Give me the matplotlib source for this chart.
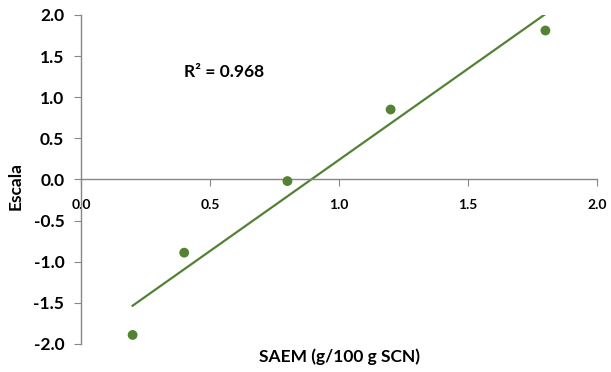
import numpy as np
import matplotlib.pyplot as plt

saem = [0.2, 0.4, 0.8, 1.2, 1.8]
escala = [-1.89, -0.89, -0.02, 0.85, 1.81]
x_ticks = [0.0, 0.5, 1.0, 1.5, 2.0]
y_ticks = [-2.0, -1.5, -1.0, -0.5, 0.0, 0.5, 1.0, 1.5, 2.0]

green = "#548235"
gray = "#868686"

plt.rcParams["font.family"] = ["Lato", "DejaVu Sans"]
plt.rcParams["font.weight"] = "bold"
fs = 12.5

fig = plt.figure(figsize=(6.11, 3.72), dpi=100)
ax = fig.add_axes([0.1326, 0.0753, 0.8445, 0.8847])

# linear trendline from the points
slope, intercept = np.polyfit(saem, escala, 1)
x_fit = np.array([min(saem), max(saem)])
ax.plot(x_fit, slope * x_fit + intercept, color=green, lw=1.6, zorder=2)
ax.scatter(saem, escala, s=50, color=green, zorder=3, edgecolors="none")

ax.set_xlim(0, 2)
ax.set_ylim(-2, 2)
ax.set_xticks(x_ticks)
ax.set_yticks(y_ticks)
ax.set_xticklabels([f"{v:.1f}" for v in x_ticks], fontsize=fs, fontweight="bold")
ax.set_yticklabels([f"{v:.1f}" for v in y_ticks], fontsize=fs, fontweight="bold")

ax.spines["bottom"].set_position(("data", 0))
ax.spines["top"].set_visible(False)
ax.spines["right"].set_visible(False)
for s in ("left", "bottom"):
    ax.spines[s].set_color(gray)
    ax.spines[s].set_linewidth(1.0)
ax.tick_params(axis="x", direction="out", length=5, color=gray, pad=9)
ax.tick_params(axis="y", direction="out", length=5, color=gray, pad=7)

ax.text(0.40, 1.30, "R² = 0.968", fontsize=fs, fontweight="bold", va="center", ha="left")

fig.text(0.555, 0.042, "SAEM (g/100 g SCN)", fontsize=fs, fontweight="bold",
         ha="center", va="center")
fig.text(0.025, 0.50, "Escala", fontsize=fs, fontweight="bold",
         ha="center", va="center", rotation=90)

fig.savefig("out.png", dpi=100)
